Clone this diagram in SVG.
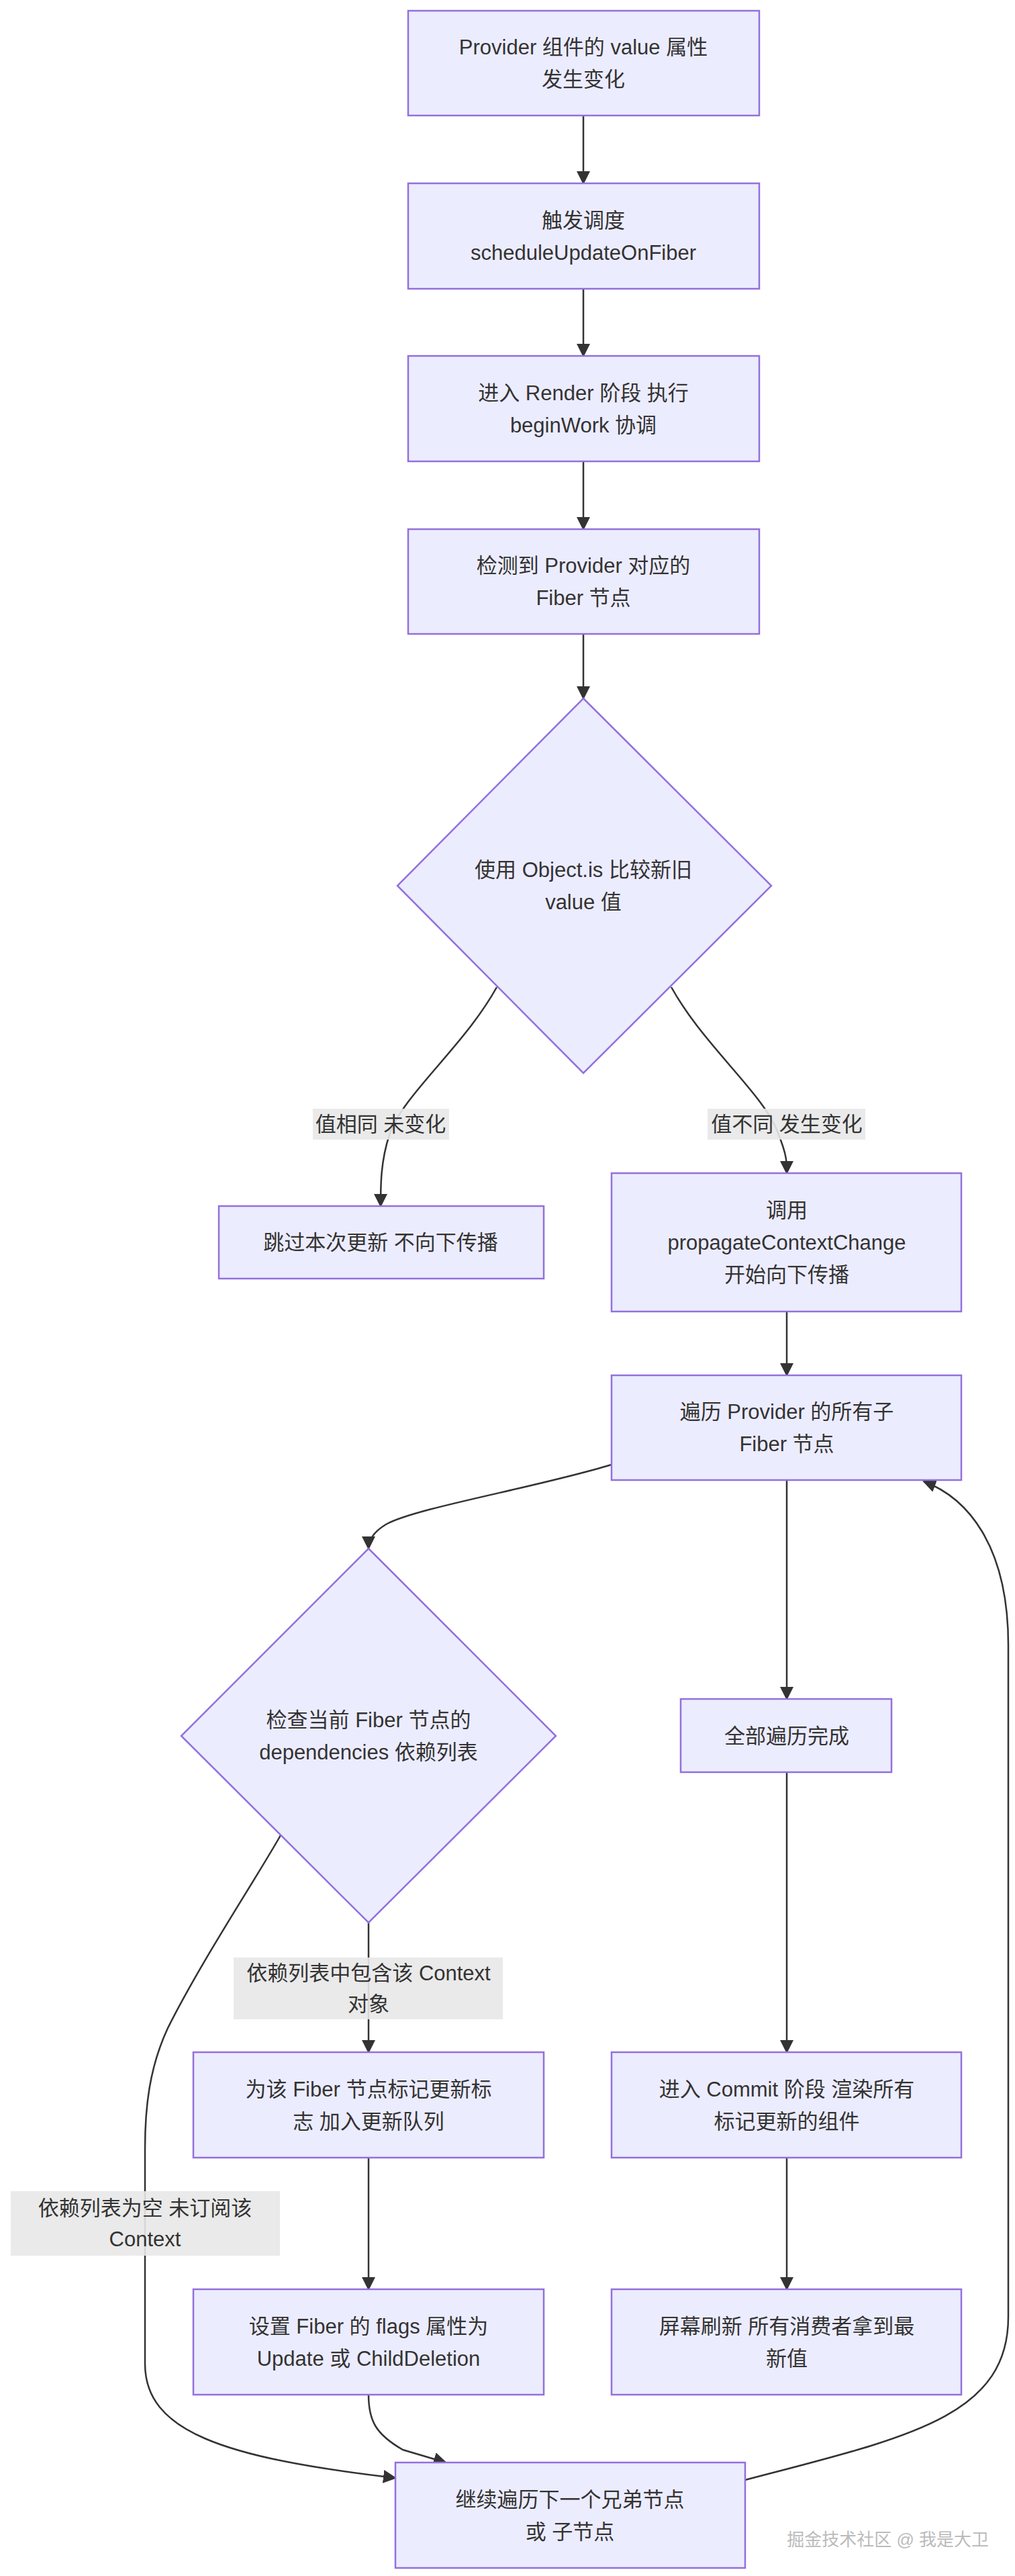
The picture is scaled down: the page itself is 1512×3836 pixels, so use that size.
<svg xmlns="http://www.w3.org/2000/svg" width="1512" height="3836" viewBox="0 0 1512 3836">
<style>
.n{fill:#ECECFF;stroke:#9370DB;stroke-width:2.5}
.t{font-family:"Liberation Sans","Noto Sans CJK SC",sans-serif;font-size:31px;fill:#333;text-anchor:middle;dominant-baseline:central}
.e{fill:none;stroke:#333;stroke-width:2.5}
.lb{fill:#e8e8e8;opacity:0.9}
</style>
<defs>
<marker id="b" viewBox="0 0 10 10" refX="9" refY="5" markerWidth="8" markerHeight="8" orient="auto"><path d="M0,0L10,5L0,10z" fill="#333"/></marker></defs>
<rect width="1512" height="3836" fill="#fff"/>
<g id="edges">
<path class="e" marker-end="url(#b)" d="M869,172L869,273"/>
<path class="e" marker-end="url(#b)" d="M869,430L869,530"/>
<path class="e" marker-end="url(#b)" d="M869,687L869,788"/>
<path class="e" marker-end="url(#b)" d="M869,944L869,1040"/>
<path class="e" marker-end="url(#b)" d="M740,1470C690,1560 600,1630 580,1690C567,1730 567,1765 567,1796"/>
<path class="e" marker-end="url(#b)" d="M1000,1470C1050,1560 1140,1630 1160,1690C1172,1720 1172,1730 1172,1747"/>
<path class="e" marker-end="url(#b)" d="M1172,1953L1172,2048"/>
<path class="e" marker-end="url(#b)" d="M911,2181C800,2215 620,2245 575,2270C555,2282 549,2295 549,2306"/>
<path class="e" marker-end="url(#b)" d="M1172,2204L1172,2530"/>
<path class="e" marker-end="url(#b)" d="M549,2863L549,3056"/>
<path class="e" marker-end="url(#b)" d="M1172,2639L1172,3056"/>
<path class="e" marker-end="url(#b)" d="M418,2733C380,2800 300,2920 250,3020C222,3080 216,3140 216,3200L216,3520C216,3620 330,3660 589,3690"/>
<path class="e" marker-end="url(#b)" d="M549,3213L549,3409"/>
<path class="e" marker-end="url(#b)" d="M1172,3213L1172,3409"/>
<path class="e" marker-end="url(#b)" d="M549,3566C549,3605 560,3625 600,3648L664,3667"/>
<path class="e" marker-end="url(#b)" d="M1110,3693C1350,3630 1502,3600 1502,3450L1502,2450C1502,2300 1440,2230 1376,2206"/>
</g>
<g id="labels">
<rect class="lb" x="466" y="1651" width="203" height="46"/><text class="t" x="567" y="1674">值相同 未变化</text>
<rect class="lb" x="1054" y="1651" width="235" height="46"/><text class="t" x="1172" y="1674">值不同 发生变化</text>
<rect class="lb" x="348" y="2915" width="401" height="92"/><text class="t" x="549" y="2938">依赖列表中包含该 Context</text><text class="t" x="549" y="2984">对象</text>
<rect class="lb" x="16" y="3263" width="401" height="96"/><text class="t" x="216" y="3288">依赖列表为空 未订阅该</text><text class="t" x="216" y="3334">Context</text>
</g>
<g id="n1"><rect class="n" x="608" y="16" width="523" height="156"/><text class="t" x="869" y="70">Provider 组件的 value 属性</text><text class="t" x="869" y="118">发生变化</text></g>
<g id="n2"><rect class="n" x="608" y="273" width="523" height="157"/><text class="t" x="869" y="328">触发调度</text><text class="t" x="869" y="376">scheduleUpdateOnFiber</text></g>
<g id="n3"><rect class="n" x="608" y="530" width="523" height="157"/><text class="t" x="869" y="585">进入 Render 阶段 执行</text><text class="t" x="869" y="633">beginWork 协调</text></g>
<g id="n4"><rect class="n" x="608" y="788" width="523" height="156"/><text class="t" x="869" y="842">检测到 Provider 对应的</text><text class="t" x="869" y="890">Fiber 节点</text></g>
<g id="d1"><polygon class="n" points="869,1040 1149,1319 869,1598 592,1319"/><text class="t" x="869" y="1295">使用 Object.is 比较新旧</text><text class="t" x="869" y="1343">value 值</text></g>
<g id="n5"><rect class="n" x="326" y="1796" width="484" height="108"/><text class="t" x="567" y="1850">跳过本次更新 不向下传播</text></g>
<g id="n6"><rect class="n" x="911" y="1747" width="521" height="206"/><text class="t" x="1172" y="1802">调用</text><text class="t" x="1172" y="1850">propagateContextChange</text><text class="t" x="1172" y="1898">开始向下传播</text></g>
<g id="n7"><rect class="n" x="911" y="2048" width="521" height="156"/><text class="t" x="1172" y="2102">遍历 Provider 的所有子</text><text class="t" x="1172" y="2150">Fiber 节点</text></g>
<g id="d2"><polygon class="n" points="549,2306 828,2585 549,2863 270,2585"/><text class="t" x="549" y="2561">检查当前 Fiber 节点的</text><text class="t" x="549" y="2609">dependencies 依赖列表</text></g>
<g id="n8"><rect class="n" x="1014" y="2530" width="314" height="109"/><text class="t" x="1172" y="2585">全部遍历完成</text></g>
<g id="n9"><rect class="n" x="288" y="3056" width="522" height="157"/><text class="t" x="549" y="3111">为该 Fiber 节点标记更新标</text><text class="t" x="549" y="3159">志 加入更新队列</text></g>
<g id="n10"><rect class="n" x="911" y="3056" width="521" height="157"/><text class="t" x="1172" y="3111">进入 Commit 阶段 渲染所有</text><text class="t" x="1172" y="3159">标记更新的组件</text></g>
<g id="n11"><rect class="n" x="288" y="3409" width="522" height="157"/><text class="t" x="549" y="3464">设置 Fiber 的 flags 属性为</text><text class="t" x="549" y="3512">Update 或 ChildDeletion</text></g>
<g id="n12"><rect class="n" x="911" y="3409" width="521" height="157"/><text class="t" x="1172" y="3464">屏幕刷新 所有消费者拿到最</text><text class="t" x="1172" y="3512">新值</text></g>
<g id="n13"><rect class="n" x="589" y="3667" width="521" height="157"/><text class="t" x="849" y="3722">继续遍历下一个兄弟节点</text><text class="t" x="849" y="3770">或 子节点</text></g>
<text x="1473" y="3782" style="font-family:'Liberation Sans','Noto Sans CJK SC',sans-serif;font-size:26px;fill:#bbb;text-anchor:end;dominant-baseline:central">掘金技术社区 @ 我是大卫</text>
</svg>
